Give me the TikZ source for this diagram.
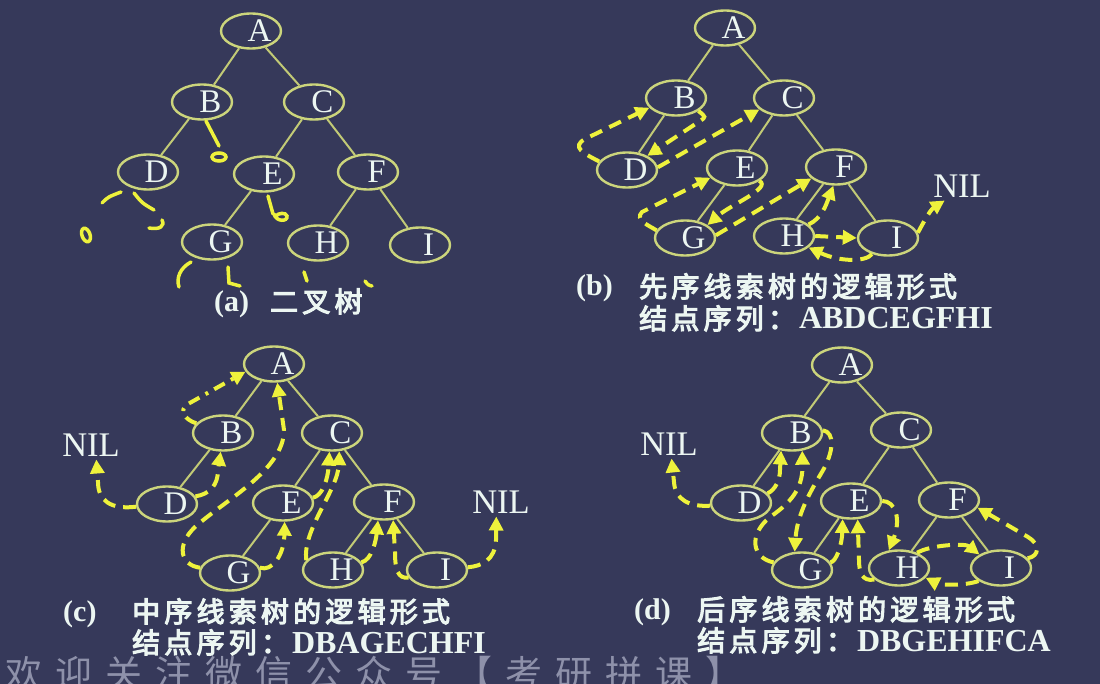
\documentclass[tikz,border=0pt]{standalone}
\usepackage{fontspec}
\setmainfont{Liberation Serif}
\newfontfamily\cjk{Noto Sans CJK SC}
\newfontfamily\cjkb[FakeBold=4,LetterSpace=15]{Noto Sans CJK SC}
\usetikzlibrary{arrows.meta,shapes.geometric,calc}
\definecolor{bg}{HTML}{36395A}
\definecolor{ellc}{HTML}{CCD57C}
\definecolor{edgec}{HTML}{C2CA76}
\definecolor{thrc}{HTML}{EEF23C}
\definecolor{txt}{HTML}{ECF6F2}
\definecolor{wm}{HTML}{8E91AA}
\newcommand{\tn}[1]{\hspace*{17pt}#1}
\tikzset{
  nd/.style={ellipse, draw=ellc, line width=2.4pt, minimum width=60pt, minimum height=35pt,
    inner sep=0pt, text=txt, font=\fontsize{33}{33}\selectfont},
  nil/.style={inner sep=3pt, text=txt, font=\fontsize{34.5}{34.5}\selectfont},
  edge/.style={draw=edgec, line width=2pt},
  thr/.style={draw=thrc, line width=4pt, dash pattern=on 13pt off 8pt,
    -{Triangle[length=14pt,width=14pt]}},
  thrdot/.style={draw=thrc, line width=4pt, dash pattern=on 12pt off 7pt on 3pt off 7pt,
    -{Triangle[length=14pt,width=14pt]}},
  pen/.style={draw=thrc, line width=3.5pt, line cap=round},
  capl/.style={anchor=base west, inner sep=0pt, text=txt, font=\fontsize{30}{30}\selectfont\bfseries},
  capc/.style={anchor=base west, inner sep=0pt, text=txt, font=\fontsize{28}{28}\selectfont},
  seq/.style={font=\fontsize{32}{32}\selectfont\bfseries},
}
\begin{document}
\begin{tikzpicture}[x=1pt,y=-1pt]
\useasboundingbox (0,0) rectangle (1100,684);
\fill[bg] (0,0) rectangle (1100,684);

% ---------- panel (a)
\node[nd] (aA) at (251,31) {\tn A};
\node[nd] (aB) at (202,102) {\tn B};
\node[nd] (aC) at (314,102) {\tn C};
\node[nd] (aD) at (148,172) {\tn D};
\node[nd] (aE) at (264,174) {\tn E};
\node[nd] (aF) at (368,172) {\tn F};
\node[nd] (aG) at (212,242) {\tn G};
\node[nd] (aH) at (318,243) {\tn H};
\node[nd] (aI) at (420,245) {\tn I};
\draw[edge] (aA)--(aB) (aA)--(aC) (aB)--(aD) (aC)--(aE) (aC)--(aF) (aE)--(aG) (aF)--(aH) (aF)--(aI);
% handwritten marks
\draw[pen] (206,121) -- (219,146);
\draw[pen] (219,157) ellipse [x radius=7, y radius=4];
\draw[pen] (102,203) .. controls (108,197) .. (121,192);
\draw[pen] (134,193) .. controls (142,203) .. (154,210);
\draw[pen] (162,220) .. controls (165,226) and (160,230) .. (149,228);
\draw[pen, rotate around={20:(86,235)}] (86,235) ellipse [x radius=4, y radius=7];
\draw[pen] (268,196) -- (273,214);
\draw[pen] (274,214) .. controls (276,222) and (288,222) .. (287,216) .. controls (286,212) and (278,213) .. (276,216);
\draw[pen] (191,262) .. controls (180,268) and (176,278) .. (179,287);
\draw[pen] (228,267) -- (229,283) -- (240,286);
\draw[pen] (304,272) -- (307,281);
\draw[pen] (365,281) .. controls (368,285) .. (372,286);
\node[capl] (aL) at (214,312) {(a)};
\node[capc] (aT) at (270,312) {\cjkb 二叉树};

% ---------- panel (b)
\node[nd] (bA) at (725,28) {\tn A};
\node[nd] (bB) at (676,98) {\tn B};
\node[nd] (bC) at (784,98) {\tn C};
\node[nd] (bD) at (627,170) {\tn D};
\node[nd] (bE) at (737,168) {\tn E};
\node[nd] (bF) at (836,167) {\tn F};
\node[nd] (bG) at (685,238) {\tn G};
\node[nd] (bH) at (784,236) {\tn H};
\node[nd] (bI) at (888,238) {\tn I};
\node[nil] (bN) at (962,186) {NIL};
\draw[edge] (bA)--(bB) (bA)--(bC) (bB)--(bD) (bC)--(bE) (bC)--(bF) (bE)--(bG) (bF)--(bH) (bF)--(bI);
\draw[thr] (bD.163) .. controls (583,153) and (571,147) .. (585,139) -- (bB.200);
\draw[thr] (bB.330) .. controls (706,117) .. (700,121) -- (bD.35);
\draw[thr] (bD.5) -- (bC.205);
\draw[thr] (bE.330) .. controls (772,188) and (730,205) .. (bG.30);
\draw[thr] (bG.165) .. controls (650,226) and (634,220) .. (642,212) -- (bE.200);
\draw[thr] (bG.5) -- (bF.205);
\draw[thr] (bH.25) .. controls (822,218) and (826,205) .. (bF.262);
\draw[thr] (bH.0) -- (bI.180);
\draw[thr] (bI.225) .. controls (866,262) and (840,262) .. (bH.335);
\draw[thr] (bI.10) .. controls (922,225) and (930,210) .. (bN.220);
\node[capl] (bL) at (576,296) {(b)};
\node[capc] (bT1) at (639,297) {\cjkb 先序线索树的逻辑形式};
\node[capc] (bT2) at (639,329) {{\cjkb 结点序列：}\hspace{3pt}{\fontsize{32}{32}\selectfont\bfseries ABDCEGFHI}};

% ---------- panel (c)
\node[nd] (cA) at (274,364) {\tn A};
\node[nd] (cB) at (223,433) {\tn B};
\node[nd] (cC) at (332,433) {\tn C};
\node[nd] (cD) at (167,504) {\tn D};
\node[nd] (cE) at (283,503) {\tn E};
\node[nd] (cF) at (384,502) {\tn F};
\node[nd] (cG) at (230,573) {\tn G};
\node[nd] (cH) at (333,570) {\tn H};
\node[nd] (cI) at (437,570) {\tn I};
\node[nil] (cN1) at (91,445) {NIL};
\node[nil] (cN2) at (501,502) {NIL};
\draw[edge] (cA)--(cB) (cA)--(cC) (cB)--(cD) (cC)--(cE) (cC)--(cF) (cE)--(cG) (cF)--(cH) (cF)--(cI);
\draw[thr] (cD.185) .. controls (110,510) and (98,500) .. (98,482) -- (cN1.290);
\draw[thr] (cD.15) .. controls (210,494) and (218,485) .. (218,470) -- (cB.263);
\draw[thrdot] (cB.160) .. controls (185,420) and (178,410) .. (188,404) -- (cA.195);
\draw[thr] (cG.170) .. controls (180,565) and (176,545) .. (195,527) .. controls (225,500) and (284,470) .. (284,430) -- (cA.280);
\draw[thr] (cG.10) .. controls (272,572) and (284,555) .. (cE.275);
\draw[thr] (cE.10) .. controls (322,496) and (328,480) .. (cC.262);
\draw[thr] (cH.160) .. controls (302,530) and (338,490) .. (cC.292);
\draw[thr] (cH.15) .. controls (372,560) and (376,540) .. (cF.252);
\draw[thr] (cI.195) .. controls (398,579) and (395,570) .. (395,552) -- (cF.297);
\draw[thr] (cI.5) .. controls (482,566) and (495,560) .. (496,540) -- (cN2.252);
\node[capl] (cL) at (63,621) {(c)};
\node[capc] (cT1) at (132,622) {\cjkb 中序线索树的逻辑形式};
\node[capc] (cT2) at (132,653) {{\cjkb 结点序列：}\hspace{3pt}{\fontsize{32}{32}\selectfont\bfseries DBAGECHFI}};

% ---------- panel (d)
\node[nd] (dA) at (842,365) {\tn A};
\node[nd] (dB) at (792,433) {\tn B};
\node[nd] (dC) at (901,430) {\tn C};
\node[nd] (dD) at (741,503) {\tn D};
\node[nd] (dE) at (851,501) {\tn E};
\node[nd] (dF) at (949,500) {\tn F};
\node[nd] (dG) at (802,570) {\tn G};
\node[nd] (dH) at (899,568) {\tn H};
\node[nd] (dI) at (1001,568) {\tn I};
\node[nil] (dN) at (669,444) {NIL};
\draw[edge] (dA)--(dB) (dA)--(dC) (dB)--(dD) (dC)--(dE) (dC)--(dF) (dE)--(dG) (dF)--(dH) (dF)--(dI);
\draw[thr] (dD.185) .. controls (690,507) and (675,500) .. (674,482) -- (dN.280);
\draw[thr] (dD.20) .. controls (775,490) and (780,480) .. (780,470) -- (dB.238);
\draw[thr] (dB.5) .. controls (835,432) and (834,452) .. (822,472) .. controls (810,492) and (797,515) .. (dG.112);
\draw[thr] (dG.165) .. controls (752,558) and (748,535) .. (770,517) .. controls (795,500) and (803,485) .. (dB.300);
\draw[thr] (dG.15) .. controls (836,562) and (842,545) .. (dE.245);
\draw[thr] (dE.0) .. controls (896,501) and (901,520) .. (dH.120);
\draw[thr] (dH.205) .. controls (862,582) and (859,572) .. (859,560) -- (dE.290);
\draw[thr] (dH.40) .. controls (930,545) and (965,543) .. (dI.148);
\draw[thr] (dI.210) .. controls (965,586) and (940,585) .. (dH.340);
\draw[thr] (dI.20) .. controls (1040,556) and (1040,544) .. (1028,537) -- (dF.345);
\node[capl] (dL) at (634,619) {(d)};
\node[capc] (dT1) at (697,620) {\cjkb 后序线索树的逻辑形式};
\node[capc] (dT2) at (697,651) {{\cjkb 结点序列：}\hspace{3pt}{\fontsize{32}{32}\selectfont\bfseries DBGEHIFCA}};

% ---------- watermark
\node[anchor=base west, inner sep=0pt, text=wm, font=\fontsize{37}{37}\selectfont\cjk] (wmk) at (5,687)
 {欢\hspace{13pt}迎\hspace{13pt}关\hspace{13pt}注\hspace{13pt}微\hspace{13pt}信\hspace{13pt}公\hspace{13pt}众\hspace{13pt}号\hspace{13pt}【\hspace{13pt}考\hspace{13pt}研\hspace{13pt}拼\hspace{13pt}课\hspace{13pt}】};
\end{tikzpicture}
\end{document}
